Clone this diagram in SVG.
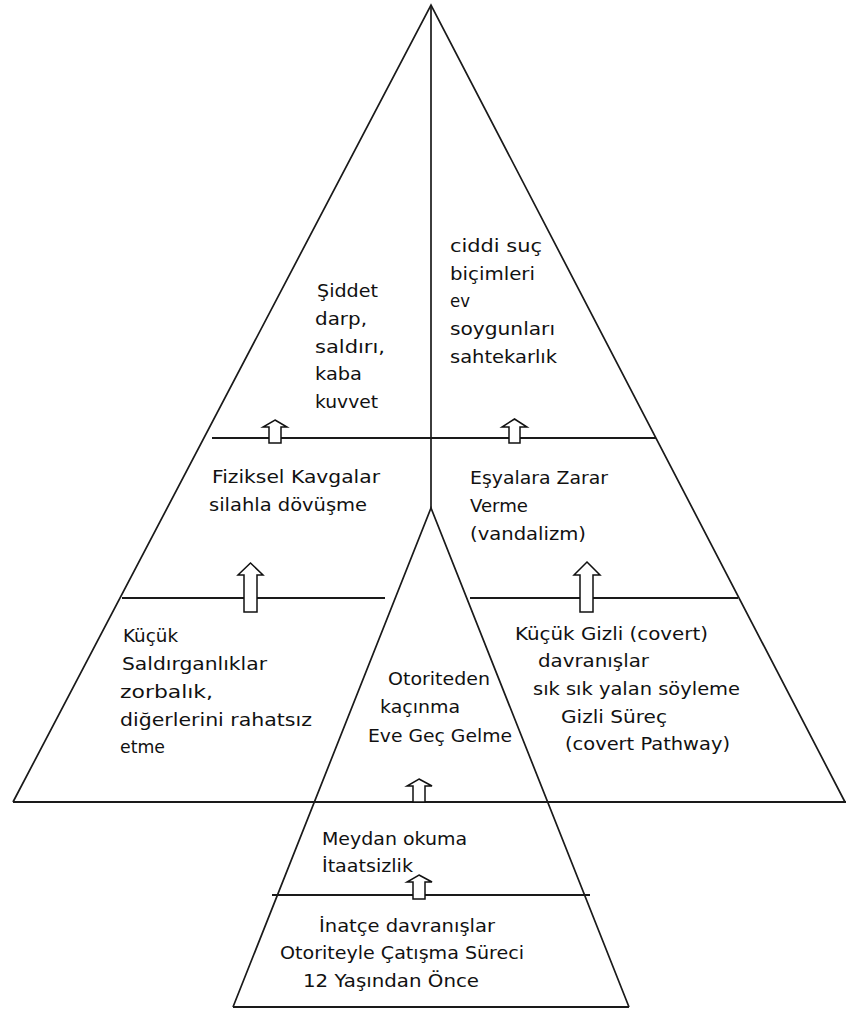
<svg xmlns="http://www.w3.org/2000/svg" width="846" height="1010" viewBox="0 0 846 1010">
<style>
.ln{fill:none;stroke:#1a1a1a;stroke-width:1.7;stroke-linejoin:miter}
.hl{fill:none;stroke:#1a1a1a;stroke-width:2}
.ar{fill:#fff;stroke:#111;stroke-width:1.5;stroke-linejoin:miter}
text{font-family:"DejaVu Sans","Liberation Sans",sans-serif;font-size:18px;fill:#111}
</style>
<rect width="846" height="1010" fill="#fff"/>
<g id="pyramid">
<polyline class="ln" points="13,802 431,5 845,802"/>
<line class="ln" x1="431" y1="5" x2="431" y2="508"/>
<polyline class="ln" points="233,1007 431,508 629,1007"/>
<line class="hl" x1="212" y1="438" x2="656" y2="438"/>
<line class="hl" x1="122" y1="598" x2="385" y2="598"/>
<line class="hl" x1="470" y1="598" x2="738" y2="598"/>
<line class="hl" x1="13" y1="802" x2="846" y2="802"/>
<line class="hl" x1="272" y1="895" x2="590" y2="895"/>
<line class="hl" x1="233" y1="1007" x2="629" y2="1007"/>
</g>
<g id="connectors">
<polygon class="ar" points="275,420 287,427 281,427 281,443 269,443 269,427 263,427"/>
<polygon class="ar" points="514.5,419 527,427 520,427 520,443 509,443 509,427 502,427"/>
<polygon class="ar" points="250.5,563 263,575 257,575 257,612 244,612 244,575 238,575"/>
<polygon class="ar" points="587,562 600,575 593,575 593,612 580,612 580,575 574,575"/>
<polygon class="ar" points="419,779 432,786 425,786 425,802 413,802 413,786 407,786"/>
<polygon class="ar" points="419,875 432,882 425,882 425,899 413,899 413,882 407,882"/>
</g>
<g id="node-siddet">
<text x="317" y="297" textLength="61" lengthAdjust="spacingAndGlyphs">Şiddet</text>
<text x="315" y="325" textLength="52" lengthAdjust="spacingAndGlyphs">darp,</text>
<text x="315" y="353" textLength="70" lengthAdjust="spacingAndGlyphs">saldırı,</text>
<text x="315" y="380" textLength="47" lengthAdjust="spacingAndGlyphs">kaba</text>
<text x="315" y="408" textLength="63" lengthAdjust="spacingAndGlyphs">kuvvet</text>
</g>
<g id="node-ciddi-suc">
<text x="450" y="252" textLength="92" lengthAdjust="spacingAndGlyphs">ciddi suç</text>
<text x="450" y="280" textLength="85" lengthAdjust="spacingAndGlyphs">biçimleri</text>
<text x="450" y="307" textLength="20" lengthAdjust="spacingAndGlyphs">ev</text>
<text x="450" y="335" textLength="105" lengthAdjust="spacingAndGlyphs">soygunları</text>
<text x="450" y="363" textLength="107" lengthAdjust="spacingAndGlyphs">sahtekarlık</text>
</g>
<g id="node-fiziksel">
<text x="212" y="483" textLength="168" lengthAdjust="spacingAndGlyphs">Fiziksel Kavgalar</text>
<text x="209" y="511" textLength="158" lengthAdjust="spacingAndGlyphs">silahla dövüşme</text>
</g>
<g id="node-esyalara">
<text x="470" y="484" textLength="138" lengthAdjust="spacingAndGlyphs">Eşyalara Zarar</text>
<text x="470" y="512" textLength="58" lengthAdjust="spacingAndGlyphs">Verme</text>
<text x="470" y="540" textLength="116" lengthAdjust="spacingAndGlyphs">(vandalizm)</text>
</g>
<g id="node-kucuk-saldirgan">
<text x="123" y="642" textLength="55" lengthAdjust="spacingAndGlyphs">Küçük</text>
<text x="122" y="670" textLength="145" lengthAdjust="spacingAndGlyphs">Saldırganlıklar</text>
<text x="120" y="698" textLength="93" lengthAdjust="spacingAndGlyphs">zorbalık,</text>
<text x="120" y="726" textLength="192" lengthAdjust="spacingAndGlyphs">diğerlerini rahatsız</text>
<text x="120" y="753" textLength="45" lengthAdjust="spacingAndGlyphs">etme</text>
</g>
<g id="node-otoriteden">
<text x="388" y="685" textLength="102" lengthAdjust="spacingAndGlyphs">Otoriteden</text>
<text x="380" y="713" textLength="80" lengthAdjust="spacingAndGlyphs">kaçınma</text>
<text x="368" y="742" textLength="144" lengthAdjust="spacingAndGlyphs">Eve Geç Gelme</text>
</g>
<g id="node-kucuk-gizli">
<text x="515" y="640" textLength="193" lengthAdjust="spacingAndGlyphs">Küçük Gizli (covert)</text>
<text x="538" y="667" textLength="111" lengthAdjust="spacingAndGlyphs">davranışlar</text>
<text x="533" y="695" textLength="207" lengthAdjust="spacingAndGlyphs">sık sık yalan söyleme</text>
<text x="561" y="723" textLength="106" lengthAdjust="spacingAndGlyphs">Gizli Süreç</text>
<text x="565" y="750" textLength="165" lengthAdjust="spacingAndGlyphs">(covert Pathway)</text>
</g>
<g id="node-meydan">
<text x="322" y="845" textLength="145" lengthAdjust="spacingAndGlyphs">Meydan okuma</text>
<text x="322" y="872" textLength="91" lengthAdjust="spacingAndGlyphs">İtaatsizlik</text>
</g>
<g id="node-inatce">
<text x="319" y="932" textLength="176" lengthAdjust="spacingAndGlyphs">İnatçe davranışlar</text>
<text x="280" y="959" textLength="244" lengthAdjust="spacingAndGlyphs">Otoriteyle Çatışma Süreci</text>
<text x="303" y="987" textLength="176" lengthAdjust="spacingAndGlyphs">12 Yaşından Önce</text>
</g>
</svg>
